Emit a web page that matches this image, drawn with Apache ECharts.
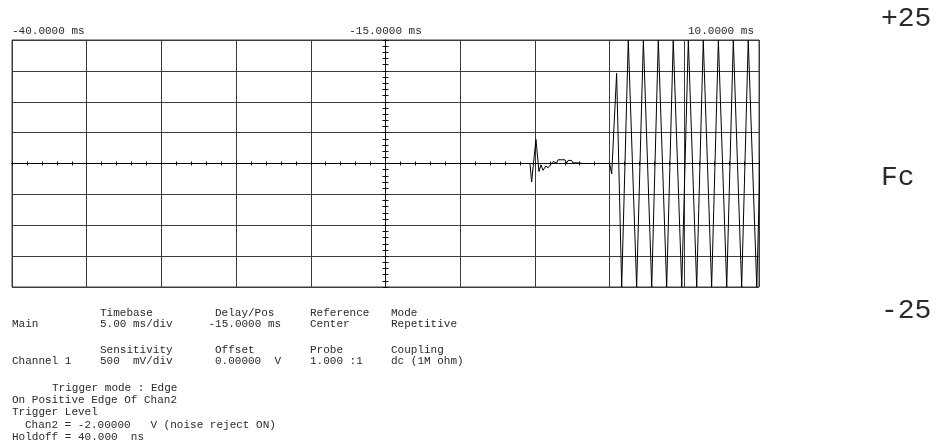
<!DOCTYPE html>
<html>
<head>
<meta charset="utf-8">
<script src="https://cdn.jsdelivr.net/npm/echarts@6/dist/echarts.min.js"></script>
<style>
html,body{margin:0;padding:0;background:#fff;}
#chart{width:942px;height:446px;}
</style>
</head>
<body>
<div id="chart"></div>
<script>
// ---- data (time in ms, voltage in V) ----
var timesMs = [-40, -5.33, -5.22, -4.93, -4.73, -4.59, -4.46, -4.26, -4.12, -3.79, -3.54, -3.45,
  -2.99, -2.87, -2.78, -2.54, -2.45, -2.32, -2.12, -1.78, 0.00, 0.14, 0.47,
  0.81, 1.25, 1.81, 2.26, 2.82, 3.26, 3.82, 4.26, 4.83, 5.27, 5.83, 6.27, 6.83, 7.28, 7.84, 8.28, 8.84, 9.28, 9.85, 10.29];
var voltsV = [0, 0, -0.30, 0.39, -0.13, -0.02, -0.11, -0.04, -0.07, 0.03, 0.01, 0.06,
  0.06, 0.01, 0.05, 0.05, 0.01, 0.03, 0.01, 0, 0, -0.17, 1.46,
  -2, 2, -2, 2, -2, 2, -2, 2, -2, 2, -2, 2, -2, 2, -2, 2, -2, 2, -2, 2];
var topTickValues = [-40, -15, 10];
var topTickLabels = ['-40.0000 ms', '-15.0000 ms', '10.0000 ms'];
var rightLabels = ['+25', 'Fc', '-25'];

var seriesData = timesMs.map(function (t, i) { return [t, voltsV[i]]; });

var MONO = '"Liberation Mono", "DejaVu Sans Mono", monospace';
var gridColor = '#3c3c3c';
var infoFont = '11px ' + MONO;
var infoColor = '#2a2a2a';

function txt(s, x, y) {
  return { type: 'text', x: x, y: y, silent: true,
    style: { text: s, font: infoFont, fill: infoColor, verticalAlign: 'middle', align: 'left' } };
}
function bigTxt(s, x, y) {
  return { type: 'text', x: x, y: y, silent: true,
    style: { text: s, font: '28px ' + MONO, fill: '#2a2a2a', verticalAlign: 'middle', align: 'left' } };
}

var chart = echarts.init(document.getElementById('chart'), null, { renderer: 'canvas' });

chart.setOption({
  animation: false,
  backgroundColor: '#fff',
  grid: { left: 12, top: 40, width: 747, height: 247, show: true, borderColor: gridColor, borderWidth: 1, backgroundColor: 'transparent' },
  xAxis: [
    { // main data axis, ticks downward on centre line
      type: 'value', min: -40, max: 10, interval: 5, position: 'bottom',
      axisLine: { show: true, onZero: true, onZeroAxisIndex: 0, lineStyle: { color: '#111', width: 1 } },
      axisTick: { show: true, inside: false, length: 2, lineStyle: { color: '#111' } },
      minorTick: { show: true, splitNumber: 5, length: 2, lineStyle: { color: '#111' } },
      axisLabel: { show: false },
      splitLine: { show: true, lineStyle: { color: gridColor, width: 1 } }
    },
    { // centre-relative axis, ticks upward on centre line
      type: 'value', min: -25, max: 25, interval: 5, position: 'bottom',
      axisLine: { show: true, onZero: true, onZeroAxisIndex: 0, lineStyle: { color: '#111', width: 1 } },
      axisTick: { show: true, inside: true, length: 2, lineStyle: { color: '#111' } },
      minorTick: { show: true, splitNumber: 5, length: 2, lineStyle: { color: '#111' } },
      axisLabel: { show: false },
      splitLine: { show: false }
    },
    { // top labels
      type: 'value', min: -40, max: 10, interval: 5, position: 'top',
      axisLine: { show: false, onZero: false },
      axisTick: { show: false },
      splitLine: { show: false },
      axisLabel: {
        show: true, margin: 3, fontFamily: MONO, fontSize: 11, color: '#2a2a2a',
        alignMinLabel: 'left', alignMaxLabel: 'right',
        formatter: function (v) {
          var i = topTickValues.indexOf(v);
          if (i < 0) return '';
          if (i === topTickValues.length - 1) return '{r|' + topTickLabels[i] + '}';
          return topTickLabels[i];
        },
        rich: { r: { fontFamily: MONO, fontSize: 11, color: '#2a2a2a', padding: [0, 5, 0, 0] } }
      }
    }
  ],
  yAxis: [
    {
      type: 'value', min: -2, max: 2, interval: 0.5, position: 'left',
      axisLine: { show: true, onZero: true, onZeroAxisIndex: 1, lineStyle: { color: '#111', width: 1 } },
      axisTick: { show: true, inside: false, length: 3, lineStyle: { color: '#111' } },
      minorTick: { show: true, splitNumber: 5, length: 3, lineStyle: { color: '#111' } },
      axisLabel: { show: false },
      splitLine: { show: true, lineStyle: { color: gridColor, width: 1 } }
    },
    {
      type: 'value', min: -2, max: 2, interval: 0.5, position: 'left',
      axisLine: { show: true, onZero: true, onZeroAxisIndex: 1, lineStyle: { color: '#111', width: 1 } },
      axisTick: { show: true, inside: true, length: 3, lineStyle: { color: '#111' } },
      minorTick: { show: true, splitNumber: 5, length: 3, lineStyle: { color: '#111' } },
      axisLabel: { show: false },
      splitLine: { show: false }
    }
  ],
  series: [{
    type: 'line', xAxisIndex: 0, yAxisIndex: 0, data: seriesData,
    showSymbol: false, symbol: 'none', clip: true,
    lineStyle: { color: '#000', width: 1 }
  }],
  graphic: [
    bigTxt(rightLabels[0], 881, 19),
    bigTxt(rightLabels[1], 881, 178),
    bigTxt(rightLabels[2], 881, 311),
    txt('Timebase', 100, 313), txt('Delay/Pos', 215, 313), txt('Reference', 310, 313), txt('Mode', 391, 313),
    txt('Main', 12, 324.5), txt('5.00 ms/div', 100, 324.5), txt('-15.0000 ms', 208.5, 324.5), txt('Center', 310, 324.5), txt('Repetitive', 391, 324.5),
    txt('Sensitivity', 100, 350), txt('Offset', 215, 350), txt('Probe', 310, 350), txt('Coupling', 391, 350),
    txt('Channel 1', 12, 361.5), txt('500  mV/div', 100, 361.5), txt('0.00000  V', 215, 361.5), txt('1.000 :1', 310, 361.5), txt('dc (1M ohm)', 391, 361.5),
    txt('Trigger mode : Edge', 52, 388),
    txt('On Positive Edge Of Chan2', 12, 400),
    txt('Trigger Level', 12, 412.5),
    txt('Chan2 = -2.00000   V (noise reject ON)', 25, 425),
    txt('Holdoff = 40.000  ns', 12, 437)
  ]
});
</script>
</body>
</html>
